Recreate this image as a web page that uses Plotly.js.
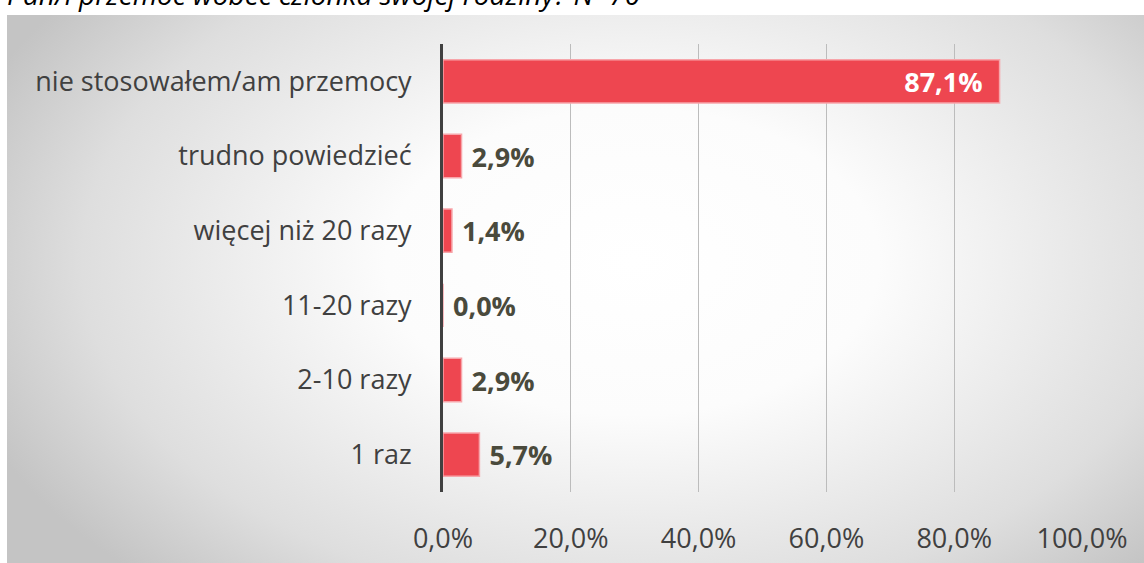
<!DOCTYPE html>
<html>
<head>
<meta charset="utf-8">
<script src="https://cdn.plot.ly/plotly-3.0.1.min.js"></script>
<style>
html,body{margin:0;padding:0;background:#fff;}
#bg{position:absolute;left:7px;top:15px;width:1137px;height:548px;
background:radial-gradient(ellipse 62% 80% at 55% 45%, #ffffff 0%, #fcfcfc 35%, #dedede 78%, #c4c4c4 100%);}
#chart{position:absolute;left:0;top:0;width:1144px;height:563px;}
</style>
</head>
<body>
<div id="bg"></div>
<div id="chart"></div>
<script>
var categories = ["1 raz", "2-10 razy", "11-20 razy", "więcej niż 20 razy", "trudno powiedzieć", "nie stosowałem/am przemocy"];
var values = [5.7, 2.9, 0.0, 1.4, 2.9, 87.1];
var tickValues = [0, 20, 40, 60, 80, 100];
var tickLabels = ["0,0%", "20,0%", "40,0%", "60,0%", "80,0%", "100,0%"];
var titleText = "Czy kiedykolwiek stosował/a Pan/i przemoc wobec członka swojej rodziny? N=70";

var NB = "\u00a0";
var labels = values.map(function(v){
  var s = v.toFixed(1).replace(".", ",") + "%";
  return v > 50 ? s + NB + NB : NB + s;
});
var positions = values.map(function(v){ return v > 50 ? "inside" : "outside"; });

var fam = "Open Sans, Noto Sans, sans-serif";
var trace = {
  type: "bar",
  orientation: "h",
  y: categories,
  x: values,
  text: labels,
  textposition: positions,
  insidetextanchor: "end",
  insidetextfont: {family: fam, size: 27, color: "#ffffff", weight: "bold"},
  outsidetextfont: {family: fam, size: 27, color: "#4a4a3c", weight: "bold"},
  constraintext: "none",
  cliponaxis: false,
  marker: {color: "#ee4650", line: {color: "#f7a5aa", width: 1.5}},
  hoverinfo: "none"
};

var layout = {
  width: 1144, height: 563,
  margin: {l: 443, r: 62, t: 44, b: 71, pad: 0},
  paper_bgcolor: "rgba(0,0,0,0)",
  plot_bgcolor: "rgba(0,0,0,0)",
  bargap: 0.42,
  showlegend: false,
  font: {family: fam, color: "#404040"},
  xaxis: {
    range: [0, 100],
    tickvals: tickValues,
    ticktext: tickLabels,
    showgrid: true,
    gridcolor: "#bcbcbc",
    gridwidth: 1,
    zeroline: false,
    showline: false,
    ticks: "outside",
    ticklen: 23,
    tickcolor: "rgba(0,0,0,0)",
    tickfont: {size: 27, color: "#404040"},
    fixedrange: true
  },
  yaxis: {
    showline: true,
    linecolor: "#404040",
    linewidth: 3,
    showgrid: false,
    ticks: "outside",
    ticklen: 23,
    tickcolor: "rgba(0,0,0,0)",
    tickfont: {size: 27, color: "#404040"},
    fixedrange: true
  },
  annotations: [{
    text: "<i>" + titleText + "</i>",
    xref: "paper", yref: "paper",
    x: (642 - 443) / 639, y: 1 + 50 / 448,
    xanchor: "right", yanchor: "middle",
    showarrow: false,
    font: {size: 28, color: "#000000", family: fam}
  }]
};

Plotly.newPlot("chart", [trace], layout, {displayModeBar: false, staticPlot: true});
</script>
</body>
</html>
